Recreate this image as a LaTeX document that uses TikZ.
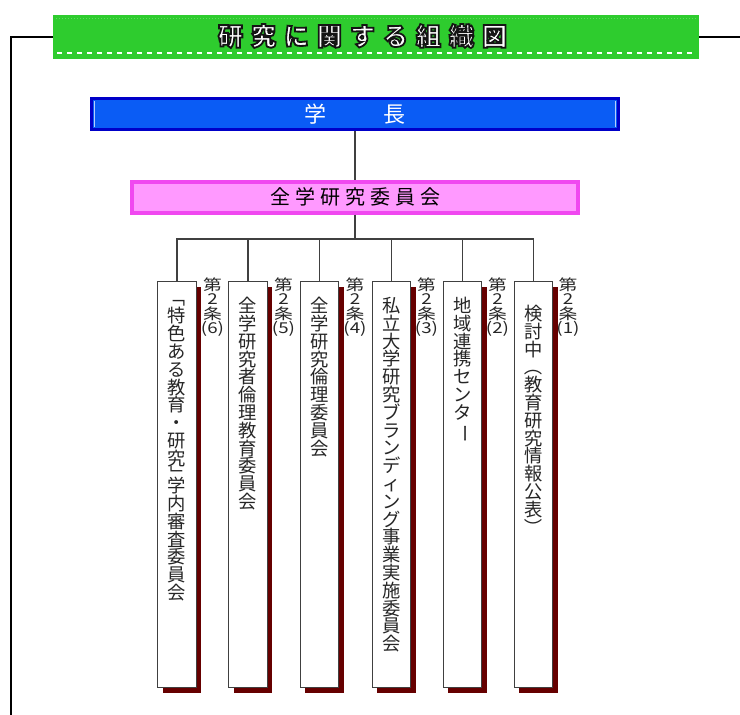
\documentclass[tikz,border=0pt]{standalone}
\usepackage{fontspec}
\setmainfont{Noto Sans CJK JP}
\newfontfamily\jpwide[FakeStretch=1.25]{Noto Sans CJK JP}
\usetikzlibrary{shadows}
\definecolor{gfill}{HTML}{2ECC2E}
\definecolor{gdot}{HTML}{5EDC5E}
\definecolor{bfill}{HTML}{0A5CF5}
\definecolor{bline}{HTML}{0000C8}
\definecolor{pfill}{HTML}{FF99FF}
\definecolor{pline}{HTML}{F048F0}
\definecolor{shred}{HTML}{660000}
\definecolor{cgray}{HTML}{404040}
\newcommand\vrot[1]{\rotatebox[origin=c]{-90}{#1}}
\newcommand\outl[1]{\special{pdf:literal direct 2 Tr 1.8 w 0.08 0.08 0.08 RG}#1\special{pdf:literal direct 0 Tr}}
\newcommand\ttl{研\kern8pt 究\kern8pt に\kern8pt 関\kern8pt す\kern8pt る\kern8pt 組\kern8pt 織\kern8pt 図}
\tikzset{
  titlebar/.style={fill=gfill, draw=none, minimum width=646pt, minimum height=44pt, inner sep=0pt},
  frame/.style={draw=black, line width=2pt},
  bluebar/.style={fill=bfill, draw=bline, line width=3pt, minimum width=527pt, minimum height=31pt, inner sep=0pt, text=white, font=\fontsize{22}{24}\selectfont},
  pinkbar/.style={fill=pfill, draw=pline, line width=4pt, minimum width=446pt, minimum height=31pt, inner sep=0pt, text=black, font=\fontsize{20}{22}\selectfont},
  conn/.style={draw=cgray, line width=1.3pt},
  obox/.style={anchor=north, draw=cgray, line width=1pt, fill=white, minimum width=38.5pt, minimum height=406pt, inner sep=0pt,
    drop shadow={shadow xshift=5pt, shadow yshift=-5pt, fill=shred, opacity=1}},
  vtext/.style={anchor=north, align=center, inner sep=0pt, text=black!85, font=\fontsize{18.3}{17.8}\selectfont},
  lbl/.style={anchor=north, align=center, inner sep=0pt, text=black!85, font=\jpwide\fontsize{15}{14.5}\selectfont}
}
\begin{document}
\lineskiplimit=-30pt\relax
\begin{tikzpicture}[x=1pt,y=-1pt]
\useasboundingbox (0,0) rectangle (740,715);
\fill[white] (0,0) rectangle (740,715);
% title bar
\node[titlebar] (title) at (376,37) {};
\draw[gdot, line width=1pt, dotted] (56,18) -- (696,18);
\draw[white, line width=1.3pt, dash pattern=on 5pt off 5pt] (57,53) -- (695,53);
\node[inner sep=0pt, font=\bfseries\fontsize{25}{26}\selectfont, text=white] (ttext) at (362.5,36) {\outl{\ttl}};
% outer frame
\coordinate (fb) at (11,715);
\coordinate (fr) at (740,37);
\draw[frame] (fb) |- (title.west);
\draw[frame] (title.east) -- (fr);
% president
\node[bluebar] (pres) at (355,114) {学\kern58pt 長};
\draw[white!70!bfill, line width=1pt] (94.5,101) -- (94.5,127);
\draw[white!70!bfill, line width=1pt] (615.5,101) -- (615.5,127);
% committee
\node[pinkbar] (comm) at (355,197) {全\kern5pt 学\kern5pt 研\kern5pt 究\kern5pt 委\kern5pt 員\kern5pt 会};
\draw[conn] (pres.south) -- (comm.north);
% boxes
\node[obox] (b1) at (177,281) {};
\node[obox] (b2) at (248,281) {};
\node[obox] (b3) at (319.5,281) {};
\node[obox] (b4) at (391.5,281) {};
\node[obox] (b5) at (462.5,281) {};
\node[obox] (b6) at (533.5,281) {};
\coordinate (bus) at (355,239);
\draw[conn] (comm.south) -- (bus);
\draw[conn] (b1.north) -- (b1.north |- bus) -- (b6.north |- bus) -- (b6.north);
\foreach \k in {2,3,4,5} \draw[conn] (b\k.north) -- (b\k.north |- bus);
% box texts
\node[vtext] (t1) at (177,288) {\vrot{「}\\特\\色\\あ\\る\\教\\育\\・\\研\\究\\\raisebox{4pt}{\vrot{」}}};
\node[vtext] (t1b) at (177,477) {学\\内\\審\\査\\委\\員\\会};
\node[vtext] (t2) at (248,297) {全\\学\\研\\究\\者\\倫\\理\\教\\育\\委\\員\\会};
\node[vtext] (t3) at (319.5,297) {全\\学\\研\\究\\倫\\理\\委\\員\\会};
\node[vtext] (t4) at (391.5,297) {私\\立\\大\\学\\研\\究\\ブ\\ラ\\ン\\デ\\ィ\\ン\\グ\\事\\業\\実\\施\\委\\員\\会};
\node[vtext] (t5) at (462.5,297) {地\\域\\連\\携\\セ\\ン\\タ\\\vrot{ー}};
\node[vtext] (t6) at (533.5,305) {検\\討\\中\\\vrot{（}\\教\\育\\研\\究\\情\\報\\公\\表\\\vrot{）}};
% article labels
\node[lbl] (l1) at (212.5,277.5) {第\\2\\条\\(6)};
\node[lbl] (l2) at (283.5,277.5) {第\\2\\条\\(5)};
\node[lbl] (l3) at (355,277.5) {第\\2\\条\\(4)};
\node[lbl] (l4) at (426.5,277.5) {第\\2\\条\\(3)};
\node[lbl] (l5) at (497.5,277.5) {第\\2\\条\\(2)};
\node[lbl] (l6) at (568,277.5) {第\\2\\条\\(1)};
\end{tikzpicture}
\end{document}
